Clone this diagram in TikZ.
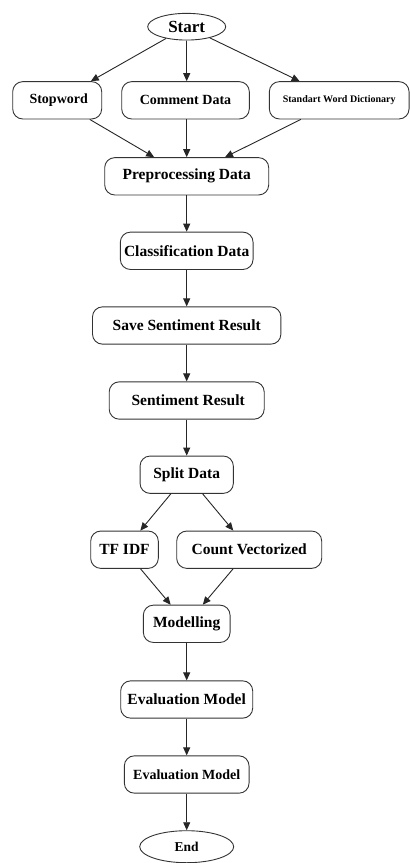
\documentclass[tikz,border=0pt]{standalone}
\usepackage{fontspec}
\setmainfont{Liberation Serif}
\usetikzlibrary{arrows.meta,shapes.geometric}
\begin{document}
\begin{tikzpicture}[x=1pt,y=-1pt,
  box/.style={draw=black!80,line width=0.9pt,rounded corners=10pt,inner sep=0pt,minimum height=37.3pt,font=\bfseries\fontsize{15.5}{18}\selectfont},
  oval/.style={ellipse,draw=black!80,line width=0.9pt,inner sep=0pt,font=\bfseries},
  arr/.style={-{Triangle[length=8pt,width=7pt]},line width=0.9pt,draw=black!85}]
\useasboundingbox (0,0) rectangle (410,863);
\node[oval,minimum width=78pt,minimum height=26.7pt,font=\bfseries\fontsize{17}{20}\selectfont] (start) at (186.7,26.7) {Start};
\node[box,minimum width=89pt,font=\bfseries\fontsize{14}{17}\selectfont] (stop) at (57.2,100.3) {\hspace{3pt}Stopword};
\node[box,minimum width=127.6pt,font=\bfseries\fontsize{14}{17}\selectfont] (comment) at (185.5,100.3) {Comment Data};
\node[box,minimum width=139.7pt,font=\bfseries\fontsize{10}{12}\selectfont] (dict) at (339.2,100.3) {Standart Word Dictionary};
\node[box,minimum width=164pt] (prep) at (186.7,176.3) {Preprocessing Data};
\node[box,minimum width=132.7pt] (class) at (186.7,250.8) {Classification Data};
\node[box,minimum width=188.4pt] (save) at (186.7,325.5) {Save Sentiment Result};
\node[box,minimum width=155pt] (sent) at (186.7,400.5) {\hspace{3pt}Sentiment Result};
\node[box,minimum width=93.3pt] (split) at (186.7,474.7) {Split Data};
\node[box,minimum width=67.6pt] (tf) at (124.5,549.7) {TF IDF};
\node[box,minimum width=145pt] (cv) at (249.2,549.7) {Count Vectorized};
\node[box,minimum width=86.7pt] (model) at (186.7,623.8) {Modelling};
\node[box,minimum width=132pt] (eval1) at (186.7,699.5) {Evaluation Model};
\node[box,minimum width=124.7pt,font=\bfseries\fontsize{14}{17}\selectfont] (eval2) at (186.7,774.5) {Evaluation Model};
\node[oval,minimum width=94pt,minimum height=32pt,font=\bfseries\fontsize{13.5}{16}\selectfont] (end) at (186.7,846.7) {End};
\draw[arr] (start) -- (stop);
\draw[arr] (start) -- (start.south |- comment.north);
\draw[arr] (start) -- (dict);
\draw[arr] (stop) -- (prep);
\draw[arr] (comment.south -| prep.north) -- (prep);
\draw[arr] (dict) -- (prep);
\draw[arr] (prep) -- (class);
\draw[arr] (class) -- (save);
\draw[arr] (save) -- (sent);
\draw[arr] (sent) -- (split);
\draw[arr] (split) -- (tf);
\draw[arr] (split) -- (cv);
\draw[arr] (tf) -- (model);
\draw[arr] (cv) -- (model);
\draw[arr] (model) -- (eval1);
\draw[arr] (eval1) -- (eval2);
\draw[arr] (eval2) -- (end);
\end{tikzpicture}
\end{document}
